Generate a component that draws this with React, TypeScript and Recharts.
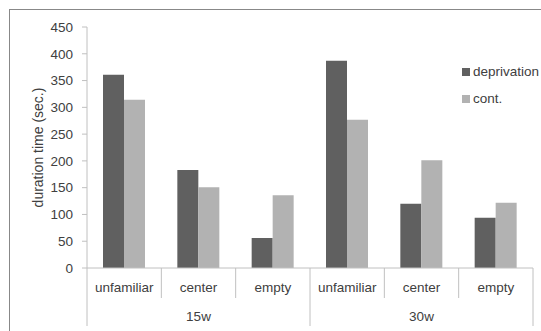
import React from 'react';
import { BarChart, Bar, XAxis, YAxis } from 'recharts';

const categories = ['unfamiliar', 'center', 'empty', 'unfamiliar', 'center', 'empty'];
const groups = ['15w', '15w', '15w', '30w', '30w', '30w'];
const deprivation = [361, 183, 56, 387, 120, 94];
const cont = [314, 151, 136, 277, 201, 122];
const yTicks = [0, 50, 100, 150, 200, 250, 300, 350, 400, 450];
const seriesNames = ['deprivation', 'cont.'];

const data = categories.map((c, i) => ({
  cat: c,
  group: groups[i],
  deprivation: deprivation[i],
  cont: cont[i],
}));

const W = 541;
const H = 331;
const M_TOP = 27;
const M_RIGHT = 8;
const Y_W = 87;
const X_H = 63;
const PLOT_BOTTOM = H - X_H;
const PLOT_W = W - M_RIGHT - Y_W;
const CAT_W = PLOT_W / categories.length;

const AXIS = '#c0c0c0';
const TEXT = '#404040';
const DARK = '#606060';
const LIGHT = '#b2b2b2';
const FONT = '"Liberation Sans", Arial, sans-serif';

const XTick = (props: any) => {
  const { x, index } = props;
  const i = index as number;
  const left = x - CAT_W / 2;
  const right = x + CAT_W / 2;
  const firstOfGroup = i === 0 || groups[i] !== groups[i - 1];
  const last = i === categories.length - 1;
  let groupLabel = null;
  if (firstOfGroup) {
    let n = 0;
    while (i + n < groups.length && groups[i + n] === groups[i]) n++;
    groupLabel = (
      <text x={left + (n * CAT_W) / 2} y={PLOT_BOTTOM + 53} textAnchor="middle" fill={TEXT} fontSize={13.5} fontFamily={FONT}>
        {groups[i]}
      </text>
    );
  }
  return (
    <g>
      <line x1={left} x2={left} y1={PLOT_BOTTOM} y2={firstOfGroup ? H - 5 : PLOT_BOTTOM + 30} stroke={AXIS} strokeWidth={1} />
      {last && <line x1={right} x2={right} y1={PLOT_BOTTOM} y2={H - 5} stroke={AXIS} strokeWidth={1} />}
      <text x={x} y={PLOT_BOTTOM + 24} textAnchor="middle" fill={TEXT} fontSize={13.5} fontFamily={FONT}>
        {categories[i]}
      </text>
      {groupLabel}
    </g>
  );
};

const LegendBox = () => {
  const colors = [DARK, LIGHT];
  return (
    <div style={{ position: 'absolute', left: 462, top: 58, fontFamily: FONT, fontSize: 13.5, color: TEXT, whiteSpace: 'nowrap' }}>
      {seriesNames.map((n, i) => (
        <div key={n} style={{ display: 'flex', alignItems: 'center', height: 27 }}>
          <span style={{ display: 'inline-block', width: 8, height: 8, background: colors[i], marginRight: 3 }} />
          <span>{n}</span>
        </div>
      ))}
    </div>
  );
};

export default function App() {
  return (
    <div style={{ position: 'absolute', left: 0, top: 0, width: W, height: H, overflow: 'hidden', background: '#fff' }}>
      <div style={{ position: 'absolute', left: 9, top: 9, width: W, height: H, borderLeft: '1px solid #888', borderTop: '1px solid #888' }} />
      <div style={{ position: 'absolute', left: 0, top: 0 }}>
        <BarChart
          width={W}
          height={H}
          data={data}
          margin={{ top: M_TOP, right: M_RIGHT, bottom: 0, left: 0 }}
          barGap={0}
          barSize={21}
        >
          <XAxis
            dataKey="cat"
            height={X_H}
            interval={0}
            tickLine={false}
            axisLine={{ stroke: AXIS }}
            tick={<XTick />}
          />
          <YAxis
            width={Y_W}
            domain={[0, 450]}
            ticks={yTicks}
            interval={0}
            tickSize={5}
            tickMargin={9}
            axisLine={{ stroke: AXIS }}
            tickLine={{ stroke: AXIS }}
            tick={{ fill: TEXT, fontSize: 13.5, fontFamily: FONT }}
            label={{
              value: 'duration time (sec.)',
              angle: -90,
              position: 'insideLeft',
              offset: 0,
              dx: 38,
              style: { fill: TEXT, fontSize: 14, fontFamily: FONT, textAnchor: 'middle' },
            }}
          />
          <Bar dataKey="deprivation" name={seriesNames[0]} fill={DARK} isAnimationActive={false} />
          <Bar dataKey="cont" name={seriesNames[1]} fill={LIGHT} isAnimationActive={false} />
        </BarChart>
      </div>
      <LegendBox />
    </div>
  );
}
